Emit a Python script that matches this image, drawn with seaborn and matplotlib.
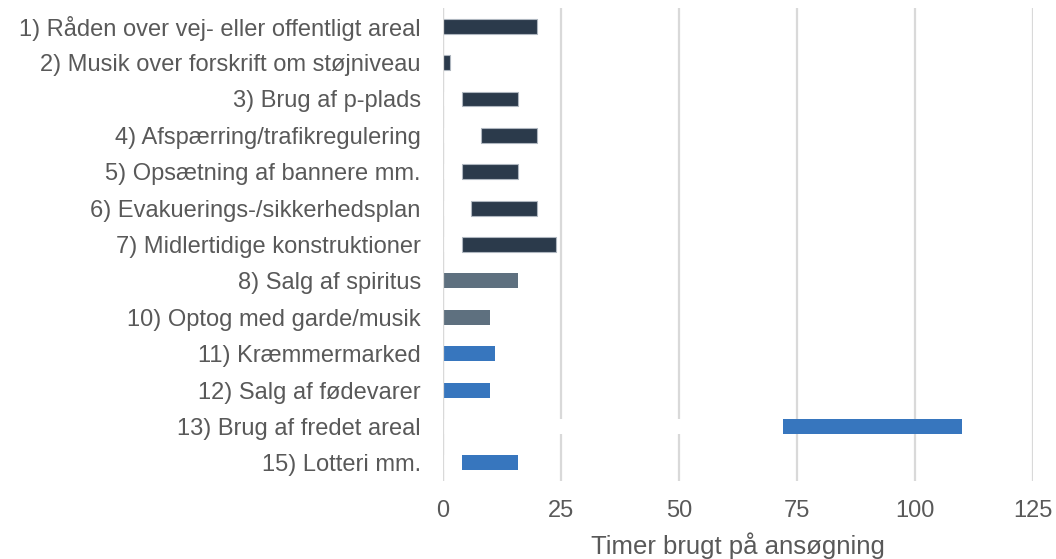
import matplotlib
matplotlib.use("Agg")
import matplotlib.pyplot as plt
import seaborn as sns
import pandas as pd

# Application steps and the range of hours spent on each
categories = [
    "1) Råden over vej- eller offentligt areal",
    "2) Musik over forskrift om støjniveau",
    "3) Brug af p-plads",
    "4) Afspærring/trafikregulering",
    "5) Opsætning af bannere mm.",
    "6) Evakuerings-/sikkerhedsplan",
    "7) Midlertidige konstruktioner",
    "8) Salg af spiritus",
    "10) Optog med garde/musik",
    "11) Kræmmermarked",
    "12) Salg af fødevarer",
    "13) Brug af fredet areal",
    "15) Lotteri mm.",
]
hours_min = [0, 0, 4, 8, 4, 6, 4, 0, 0, 0, 0, 72, 4]
hours_max = [20, 1.5, 16, 20, 16, 20, 24, 16, 10, 11, 10, 110, 16]
groups = ["A"] * 7 + ["B"] * 2 + ["C"] * 4

group_colors = {"A": "#2B3A4B", "B": "#5E707F", "C": "#3776BE"}
group_edges = {"A": "#AEB6BF", "B": "none", "C": "none"}
bar_colors = [group_colors[g] for g in groups]

x_ticks = [0, 25, 50, 75, 100, 125]
x_label = "Timer brugt på ansøgning"

df = pd.DataFrame({"kategori": categories, "min": hours_min, "max": hours_max})

sns.set_style("white")
plt.rcParams["font.family"] = ["Liberation Sans", "DejaVu Sans"]

fig = plt.figure(figsize=(10.56, 5.59), dpi=100)
ax = fig.add_axes([0.4195, 0.1395, 0.978 - 0.4195, 0.9857 - 0.1395])

# White base segment up to the lower bound (hides the grid, stacked-bar look)
sns.barplot(data=df, x="min", y="kategori", color="white",
            order=categories, width=0.41, orient="h", ax=ax, zorder=3,
            linewidth=0, saturation=1)
n_base = len(ax.patches)

# Coloured segment from the lower to the upper bound
sns.barplot(data=df, x="max", y="kategori", hue="kategori", palette=bar_colors,
            order=categories, hue_order=categories, legend=False,
            width=0.41, orient="h", ax=ax, zorder=4, linewidth=0, saturation=1)
for patch, lo, hi, g in zip(ax.patches[n_base:], hours_min, hours_max, groups):
    patch.set_x(lo)
    patch.set_width(hi - lo)
    if group_edges[g] != "none":
        patch.set_edgecolor(group_edges[g])
        patch.set_linewidth(0.8)

ax.set_xlim(0, 125)
ax.set_xticks(x_ticks)
ax.grid(axis="x", color="#D9D9D9", linewidth=1.6, zorder=0)
ax.grid(axis="y", visible=False)
ax.set_axisbelow(True)
ax.axvline(0, color="#D9D9D9", linewidth=1.6, zorder=5)
for s in ax.spines.values():
    s.set_visible(False)

ax.tick_params(axis="y", length=0, pad=16, labelsize=17, labelcolor="#595959")
ax.tick_params(axis="x", length=0, pad=14, labelsize=17, labelcolor="#595959")
ax.set_ylabel("")
ax.set_xlabel(x_label, fontsize=18.5, color="#595959", labelpad=7)

fig.savefig("out.png", dpi=100)
